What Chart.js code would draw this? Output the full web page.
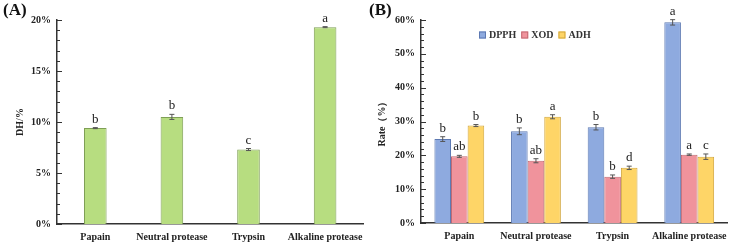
<!DOCTYPE html>
<html>
<head>
<meta charset="utf-8">
<script src="https://cdn.jsdelivr.net/npm/chart.js@4.4.0/dist/chart.umd.min.js"></script>
<style>
  html, body { margin: 0; padding: 0; background: #fff; }
  #wrap { position: relative; width: 734px; height: 247px; overflow: hidden; }
  .panel { position: absolute; top: 0; }
  .tag { position: absolute; top: 0; font: bold 17px "Liberation Serif", serif; color: #111; }
</style>
</head>
<body>
<div id="wrap">
  <div class="panel" style="left:0;width:370px;height:247px"><canvas id="chartA" width="370" height="247"></canvas></div>
  <div class="panel" style="left:366px;width:368px;height:247px"><canvas id="chartB" width="368" height="247"></canvas></div>
  <div class="tag" style="left:3px">(A)</div>
  <div class="tag" style="left:369px">(B)</div>
</div>
<script>
// categories
const enzymes = ['Papain', 'Neutral protease', 'Trypsin', 'Alkaline protease'];

// panel A: degree of hydrolysis (%)
const dhValues = [9.4, 10.5, 7.3, 19.3];
const dhErrors = [0.05, 0.25, 0.1, 0.05];
const dhLetters = ['b', 'b', 'c', 'a'];

// panel B: rates (%)
const dpphValues = [24.8, 27.1, 28.3, 59.3];
const dpphErrors = [0.7, 1.0, 0.8, 0.8];
const dpphLetters = ['b', 'b', 'b', 'a'];
const xodValues = [19.7, 18.4, 13.7, 20.2];
const xodErrors = [0.3, 0.6, 0.5, 0.2];
const xodLetters = ['ab', 'ab', 'b', 'a'];
const adhValues = [28.8, 31.4, 16.3, 19.6];
const adhErrors = [0.3, 0.6, 0.5, 0.8];
const adhLetters = ['b', 'a', 'd', 'c'];

const serif = '"Liberation Serif", "Times New Roman", serif';
const axisColor = '#333';

// inward ticks, error bars, significance letters, legend
const decor = {
    id: 'decor',
    afterDatasetsDraw(chart, args, opts) {
        const ctx = chart.ctx;
        const y = chart.scales.y;
        const area = chart.chartArea;
        ctx.save();
        ctx.strokeStyle = axisColor;
        ctx.lineWidth = 1;
        for (let v = y.min; v <= y.max + 1e-9; v += opts.minorStep) {
            const py = Math.round(y.getPixelForValue(v)) + 0.5;
            const r = v / opts.majorStep;
            const major = Math.abs(r - Math.round(r)) < 1e-6;
            const len = major ? 5 : 3;
            ctx.beginPath();
            ctx.moveTo(area.left, py);
            ctx.lineTo(area.left + len, py);
            ctx.stroke();
        }

        chart.data.datasets.forEach((ds, di) => {
            const meta = chart.getDatasetMeta(di);
            meta.data.forEach((bar, i) => {
                const val = ds.data[i];
                const err = opts.errors[di][i];
                const yt = y.getPixelForValue(val + err);
                const yb = y.getPixelForValue(val - err);
                const x = bar.x;
                ctx.strokeStyle = '#555';
                ctx.lineWidth = 1;
                ctx.beginPath();
                ctx.moveTo(x, yt); ctx.lineTo(x, yb);
                ctx.moveTo(x - 2.5, yt); ctx.lineTo(x + 2.5, yt);
                ctx.moveTo(x - 2.5, yb); ctx.lineTo(x + 2.5, yb);
                ctx.stroke();
                ctx.fillStyle = '#222';
                ctx.font = '13px ' + serif;
                ctx.textAlign = 'center';
                ctx.textBaseline = 'alphabetic';
                ctx.fillText(opts.letters[di][i], x, yt - 5);
            });
        });

        if (opts.legend) {
            let lx = opts.legend.x;
            const ly = opts.legend.y;
            ctx.font = 'bold 10px ' + serif;
            ctx.textBaseline = 'middle';
            ctx.textAlign = 'left';
            chart.data.datasets.forEach(ds => {
                ctx.fillStyle = ds.backgroundColor;
                ctx.fillRect(lx, ly - 3.5, 7, 7);
                ctx.strokeStyle = ds.borderColor;
                ctx.strokeRect(lx + 0.5, ly - 3, 6, 6);
                ctx.fillStyle = '#333';
                ctx.fillText(ds.label, lx + 10, ly + 0.5);
                lx += 10 + ctx.measureText(ds.label).width + 5;
            });
        }
        ctx.restore();
    }
};

function makeOptions(cfg) {
    return {
        responsive: false,
        animation: false,
        devicePixelRatio: 1,
        layout: { padding: cfg.padding },
        plugins: {
            legend: { display: false },
            tooltip: { enabled: false },
            decor: cfg.decor
        },
        scales: {
            x: {
                grid: { display: false, drawTicks: false },
                border: { display: true, color: axisColor, width: 1.5 },
                ticks: { color: '#222', font: { family: serif, size: 10, weight: 'bold' }, padding: 7, maxRotation: 0, autoSkip: false },
                afterFit: s => { s.height = cfg.xHeight; }
            },
            y: {
                min: 0,
                max: cfg.max,
                grid: { display: false, drawTicks: false },
                border: { display: true, color: axisColor, width: 1.5 },
                ticks: {
                    stepSize: cfg.step,
                    color: '#222',
                    padding: 6,
                    font: { family: serif, size: 10, weight: 'bold' },
                    callback: v => v + '%'
                },
                title: {
                    display: true,
                    text: cfg.title,
                    color: '#222',
                    font: { family: serif, size: 10, weight: 'bold' },
                    padding: { top: cfg.titlePad, bottom: 0 }
                },
                afterFit: s => { s.width = cfg.yWidth; }
            }
        }
    };
}

new Chart(document.getElementById('chartA'), {
    type: 'bar',
    data: {
        labels: enzymes,
        datasets: [{
            label: 'DH',
            data: dhValues,
            backgroundColor: '#b7dd80',
            borderColor: '#7f9f56',
            borderWidth: 1,
            categoryPercentage: 1,
            barPercentage: 0.295
        }]
    },
    options: makeOptions({
        padding: { top: 20, right: 5, left: 0, bottom: 0 },
        xHeight: 23, yWidth: 57, max: 20, step: 5, title: 'DH/%', titlePad: 14,
        decor: { minorStep: 1, majorStep: 5, errors: [dhErrors], letters: [dhLetters] }
    }),
    plugins: [decor]
});

new Chart(document.getElementById('chartB'), {
    type: 'bar',
    data: {
        labels: enzymes,
        datasets: [{
            label: 'DPPH', data: dpphValues,
            backgroundColor: '#8eaadf', borderColor: '#5d79b2', borderWidth: 1,
            categoryPercentage: 0.65, barPercentage: 1
        }, {
            label: 'XOD', data: xodValues,
            backgroundColor: '#f0939c', borderColor: '#c26972', borderWidth: 1,
            categoryPercentage: 0.65, barPercentage: 1
        }, {
            label: 'ADH', data: adhValues,
            backgroundColor: '#fed567', borderColor: '#d2a63c', borderWidth: 1,
            categoryPercentage: 0.65, barPercentage: 1
        }]
    },
    options: makeOptions({
        padding: { top: 20, right: 4, left: 0, bottom: 0 },
        xHeight: 24, yWidth: 55, max: 60, step: 10, title: 'Rate（%）', titlePad: 10,
        decor: {
            minorStep: 2, majorStep: 10,
            errors: [dpphErrors, xodErrors, adhErrors],
            letters: [dpphLetters, xodLetters, adhLetters],
            legend: { x: 113, y: 35 }
        }
    }),
    plugins: [decor]
});
</script>
</body>
</html>
